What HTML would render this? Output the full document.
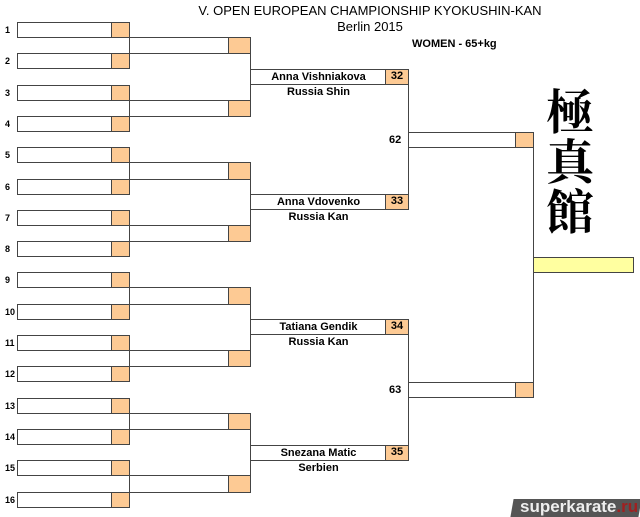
<!DOCTYPE html>
<html><head><meta charset="utf-8"><style>
body{margin:0;width:640px;height:517px;background:#fff;position:relative;overflow:hidden;font-family:"Liberation Sans",sans-serif}
.b{position:absolute;border:1px solid #444;box-sizing:border-box;background:#fff}
.o{position:absolute;border:1px solid #444;box-sizing:border-box;background:#fdca94;font-weight:bold;font-size:11px;text-align:center;line-height:13px}
.v{position:absolute;width:1px;background:#444}
.n{position:absolute;font-size:9px;font-weight:bold;width:14px;text-align:left}
.t{position:absolute;font-weight:bold;font-size:11px;text-align:center}
</style></head><body>
<div style="position:absolute;left:190px;top:3px;width:360px;text-align:center;font-size:13px">V. OPEN EUROPEAN CHAMPIONSHIP KYOKUSHIN-KAN</div>
<div style="position:absolute;left:190px;top:19px;width:360px;text-align:center;font-size:13px">Berlin 2015</div>
<div style="position:absolute;left:412px;top:38px;font-size:11px;font-weight:bold">WOMEN - 65+kg</div>
<div style="position:absolute;left:540px;top:84px;width:60px;font-family:'Noto Serif CJK SC',serif;font-size:48px;line-height:50px;font-weight:bold;text-align:center">極<br>真<br>館</div>
<div style="position:absolute;left:512px;top:499px;width:128px;height:18px;background:#555;transform:skewX(-10deg)"></div>
<div style="position:absolute;left:520px;top:497px;font-size:17px;font-weight:bold;color:#eee">superkarate<span style="color:#a02020">.ru</span></div>
<div id="c"></div>
<script>
(function(){
var h='';function R(x,y,w,h2,c,t){return '<div class="'+c+'" style="left:'+x+'px;top:'+y+'px;width:'+w+'px;height:'+h2+'px">'+(t||'')+'</div>';}
function V(x,y1,y2){return '<div class="v" style="left:'+x+'px;top:'+y1+'px;height:'+(y2-y1)+'px"></div>';}
var tp=[];for(var k=0;k<16;k++){var y=Math.round(22+k*31.3);tp.push(y);
h+='<div class="n" style="left:5px;top:'+(y+3)+'px">'+(k+1)+'</div>';
h+=R(17,y,96,16,'b')+R(111,y,19,16,'o');}
for(var k=0;k<8;k++){var y1=tp[2*k]+15,y2=tp[2*k+1];h+=V(129,y1,y2+1)+R(129,y1,101,y2-y1+1,'b')+R(228,y1,23,y2-y1+1,'o');}
var r3=[69,194,319,445],names=[['Anna Vishniakova','Russia Shin','32'],['Anna Vdovenko','Russia Kan','33'],['Tatiana Gendik','Russia Kan','34'],['Snezana Matic','Serbien','35']];
for(var k=0;k<4;k++){var a=tp[4*k]+15,b2=tp[4*k+2]+15;var y=r3[k];
h+=V(250,Math.round(a+8),Math.round(b2+8));
h+=R(250,y,137,16,'b','<div class="t" style="left:0;width:135px;top:1px">'+names[k][0]+'</div>')+R(385,y,24,16,'o',names[k][2]);
h+='<div class="t" style="left:250px;width:137px;top:'+(y+17)+'px">'+names[k][1]+'</div>';}
h+=V(408,84,195)+V(408,334,446);
var r4=[132,382],lb=['62','63'];
for(var k=0;k<2;k++){h+=R(408,r4[k],109,16,'b')+R(515,r4[k],19,16,'o');h+='<div class="t" style="left:389px;top:'+(r4[k]+2)+'px">'+lb[k]+'</div>';}
h+=V(533,147,383);
h+='<div style="position:absolute;left:533px;top:257px;width:101px;height:16px;box-sizing:border-box;border:1px solid #444;background:#ffffa0"></div>';
document.getElementById('c').innerHTML=h;
})();
</script>
</body></html>
